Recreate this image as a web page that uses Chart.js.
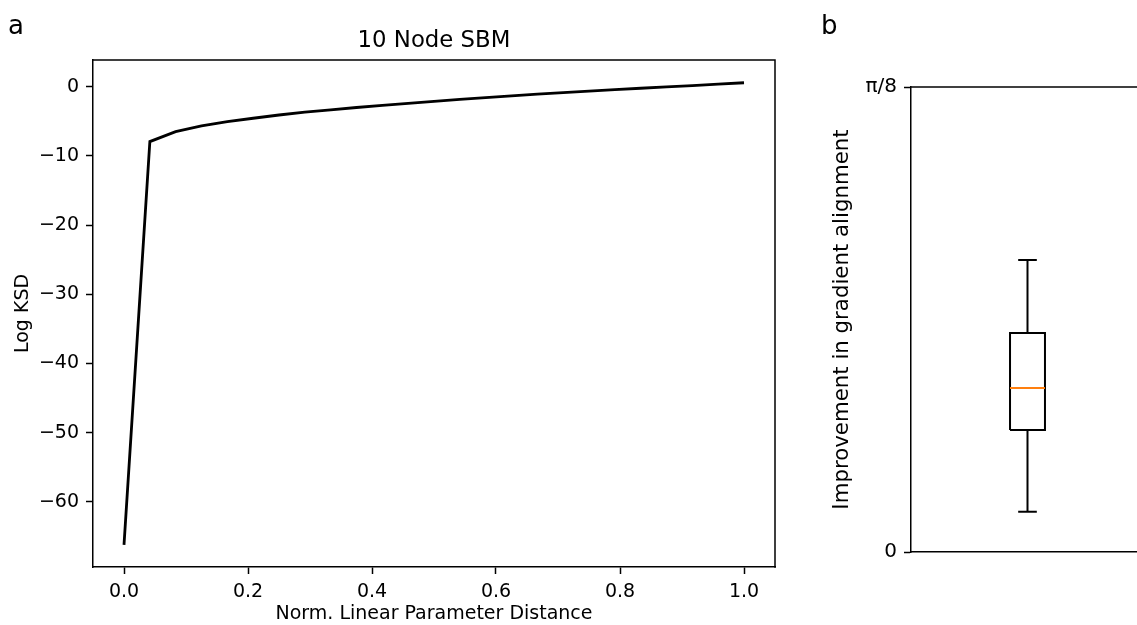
<!DOCTYPE html>
<html>
<head>
<meta charset="utf-8">
<script src="https://cdn.jsdelivr.net/npm/chart.js@4.4.1/dist/chart.umd.min.js"></script>
<style>
  html, body { margin: 0; padding: 0; background: #fff; overflow: hidden; width: 1137px; height: 625px; }
  #ksd { position: absolute; left: 0; top: 0; }
  #align { position: absolute; left: 800px; top: 0; }
  .panel { position: absolute; font-family: 'DejaVu Sans'; font-size: 26px; line-height: 1; color: #000; }
</style>
</head>
<body>
<canvas id="ksd" width="800" height="625"></canvas>
<canvas id="align" width="360" height="625"></canvas>
<div class="panel" style="left:8px;top:12px">a</div>
<div class="panel" style="left:821px;top:12px">b</div>
<script>
// Panel a: log KSD along the normalised linear path between parameters
const distance = [0, 0.0417, 0.0833, 0.125, 0.1667, 0.2083, 0.25, 0.2917, 0.3333,
  0.375, 0.4167, 0.4583, 0.5, 0.5417, 0.5833, 0.625, 0.6667, 0.7083, 0.75,
  0.7917, 0.8333, 0.875, 0.9167, 0.9583, 1.0];
const logKsd = [-66.2, -7.94, -6.5, -5.67, -5.05, -4.57, -4.1, -3.7, -3.35,
  -3.02, -2.72, -2.42, -2.12, -1.84, -1.58, -1.33, -1.09, -0.86, -0.64,
  -0.44, -0.24, -0.05, 0.15, 0.36, 0.56];
const distanceTicks = [0, 0.2, 0.4, 0.6, 0.8, 1.0];
const ksdTicks = [-60, -50, -40, -30, -20, -10, 0];

// Panel b: box summary of the improvement in gradient alignment
const boxPositions = [1];
const whiskerLow = [0.034];
const quartile1 = [0.103];
const median = [0.1385];
const quartile3 = [0.185];
const whiskerHigh = [0.2466];
const alignTicks = [0, Math.PI / 8];
const alignTickLabels = ['0', 'π/8'];

const FONT = "'DejaVu Sans', sans-serif";
Chart.defaults.color = '#000';
Chart.defaults.font.family = FONT;

// Closes the axes box on the sides Chart.js leaves open
const frame = {
  id: 'frame',
  afterDraw(chart, args, opts) {
    const { ctx, chartArea: a } = chart;
    ctx.save();
    ctx.strokeStyle = '#000';
    ctx.lineWidth = opts.width || 1.5;
    ctx.lineCap = 'square';
    ctx.beginPath();
    (opts.sides || []).forEach(s => {
      if (s === 'top') { ctx.moveTo(a.left, a.top); ctx.lineTo(a.right, a.top); }
      if (s === 'right') { ctx.moveTo(a.right, a.top); ctx.lineTo(a.right, a.bottom); }
    });
    ctx.stroke();
    ctx.restore();
  }
};

const tickGrid = { display: true, drawOnChartArea: false, drawTicks: true, tickLength: 7, tickWidth: 1.5, tickColor: '#000' };
const spine = { display: true, color: '#000', width: 1.5 };
const minus = v => (v < 0 ? '\u2212' + Math.abs(v) : String(v));

new Chart(document.getElementById('ksd'), {
  type: 'line',
  data: {
    datasets: [{
      data: distance.map((x, i) => ({ x, y: logKsd[i] })),
      borderColor: '#000',
      borderWidth: 2.8,
      pointRadius: 0,
      tension: 0,
      fill: false
    }]
  },
  options: {
    responsive: false,
    animation: false,
    devicePixelRatio: 1,
    layout: { padding: { left: 0, right: 25, top: 0, bottom: 0 } },
    plugins: {
      legend: { display: false },
      tooltip: { enabled: false },
      title: {
        display: true, text: '10 Node SBM', fullSize: false, color: '#000',
        font: { family: FONT, size: 22.8, weight: 'normal' },
        padding: { top: 27, bottom: 5.6 }
      },
      frame: { sides: ['top', 'right'] }
    },
    scales: {
      x: {
        type: 'linear', min: -0.05, max: 1.05,
        afterBuildTicks: s => { s.ticks = distanceTicks.map(v => ({ value: v })); },
        afterFit: s => { s.height = 58; },
        grid: tickGrid, border: spine,
        ticks: { color: '#000', font: { family: FONT, size: 19 }, padding: 7, maxRotation: 0, autoSkip: false,
                 callback: v => Number(v).toFixed(1) },
        title: { display: true, text: 'Norm. Linear Parameter Distance', color: '#000',
                 font: { family: FONT, size: 19 }, padding: { top: 0, bottom: 0 } }
      },
      y: {
        type: 'linear', min: -69.4, max: 3.85,
        afterBuildTicks: s => { s.ticks = ksdTicks.map(v => ({ value: v })); },
        afterFit: s => { s.width = 93; },
        grid: tickGrid, border: spine,
        ticks: { color: '#000', font: { family: FONT, size: 19 }, padding: 7, autoSkip: false, callback: minus },
        title: { display: true, text: 'Log KSD', color: '#000',
                 font: { family: FONT, size: 19 }, padding: { top: 12, bottom: 0 } }
      }
    }
  },
  plugins: [frame]
});

// Box, median, whiskers and caps as line segments in data space
const boxHalf = 0.075, capHalf = 0.04;
const boxSets = [];
boxPositions.forEach((p, i) => {
  const seg = (pts, color) => ({
    type: 'scatter', showLine: true, data: pts.map(([x, y]) => ({ x, y })),
    borderColor: color, borderWidth: 2, pointRadius: 0, fill: false
  });
  boxSets.push(seg([[p - boxHalf, median[i]], [p + boxHalf, median[i]]], '#ff7f0e'));
  boxSets.push(seg([[p - boxHalf, quartile1[i]], [p + boxHalf, quartile1[i]], [p + boxHalf, quartile3[i]],
                    [p - boxHalf, quartile3[i]], [p - boxHalf, quartile1[i]]], '#000'));
  boxSets.push(seg([[p, quartile1[i]], [p, whiskerLow[i]]], '#000'));
  boxSets.push(seg([[p, quartile3[i]], [p, whiskerHigh[i]]], '#000'));
  boxSets.push(seg([[p - capHalf, whiskerLow[i]], [p + capHalf, whiskerLow[i]]], '#000'));
  boxSets.push(seg([[p - capHalf, whiskerHigh[i]], [p + capHalf, whiskerHigh[i]]], '#000'));
});

new Chart(document.getElementById('align'), {
  type: 'scatter',
  data: { datasets: boxSets },
  options: {
    responsive: false,
    animation: false,
    devicePixelRatio: 1,
    layout: { padding: { left: 0, right: 16, top: 87, bottom: 0 } },
    plugins: {
      legend: { display: false },
      tooltip: { enabled: false },
      frame: { sides: ['top'] }
    },
    scales: {
      x: {
        type: 'linear', min: 0.5, max: 1.5,
        afterFit: s => { s.height = 73; },
        grid: { display: false }, border: spine,
        ticks: { display: false }
      },
      y: {
        type: 'linear', min: 0, max: Math.PI / 8,
        afterBuildTicks: s => { s.ticks = alignTicks.map(v => ({ value: v })); },
        afterFit: s => { s.width = 111; },
        grid: tickGrid, border: spine,
        ticks: { color: '#000', font: { family: FONT, size: 20 }, padding: 7, autoSkip: false,
                 callback: (v, i) => alignTickLabels[i] },
        title: { display: true, text: 'Improvement in gradient alignment', color: '#000',
                 font: { family: FONT, size: 21.3 }, padding: { top: 30, bottom: 0 } }
      }
    }
  },
  plugins: [frame]
});
</script>
</body>
</html>
